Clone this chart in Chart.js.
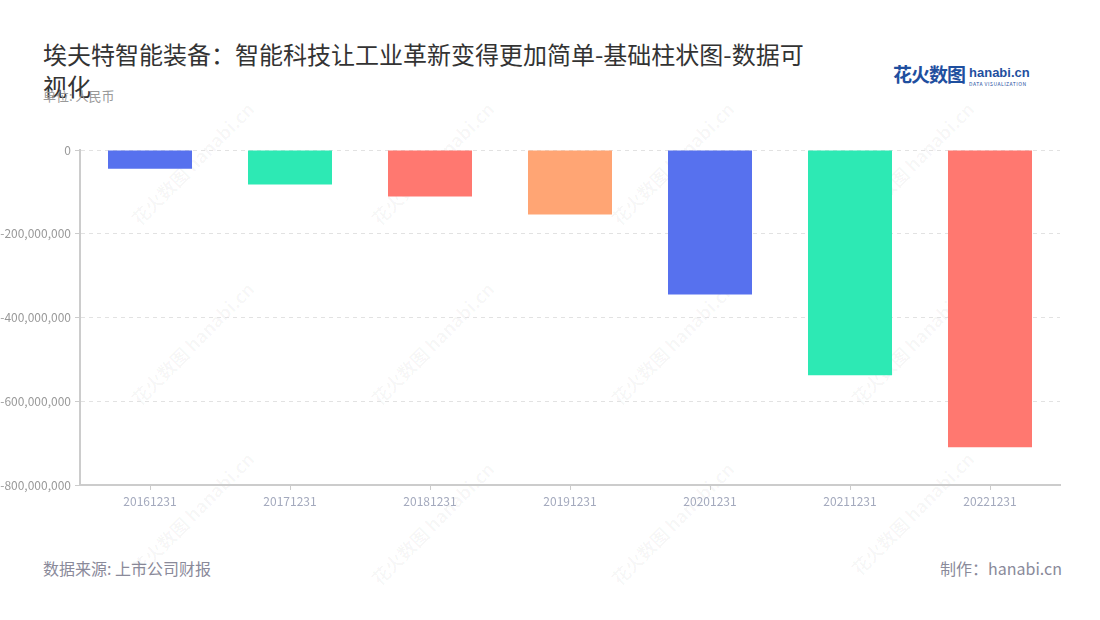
<!DOCTYPE html>
<html>
<head>
<meta charset="utf-8">
<script src="https://cdn.jsdelivr.net/npm/chart.js@4/dist/chart.umd.min.js"></script>
<style>
  body { margin: 0; width: 1100px; height: 620px; background: #fff; position: relative; overflow: hidden;
         font-family: "Noto Sans CJK SC", "Noto Sans", sans-serif; }
  #title { position: absolute; left: 43px; top: 38px; width: 770px; font-size: 24px; line-height: 32px; color: #333; }
  #unit { position: absolute; left: 43px; top: 86px; font-size: 13px; color: #999; }
  #logo { position: absolute; left: 893px; top: 60px; color: #1f4f9f; white-space: nowrap; }
  #logo .cn { font-size: 19px; font-weight: bold; letter-spacing: -1px; vertical-align: top; }
  #logo .en { display: inline-block; margin-left: 4px; vertical-align: top; line-height: 1; margin-top: 2px; }
  #logo .en b { font-size: 13px; font-family: "Liberation Sans", sans-serif; }
  #logo .en i { display: block; font-style: normal; font-size: 5px; letter-spacing: 0.5px; margin-top: 2px; }
  #source { position: absolute; left: 43px; top: 556px; font-size: 16px; color: #8a8a9a; }
  #maker { position: absolute; right: 38px; top: 556px; font-size: 16px; color: #8a8a9a; }
  .wm { position: absolute; font-size: 18px; font-weight: bold; color: rgba(0,0,0,0.035); transform: rotate(-45deg); white-space: nowrap; }
  canvas { position: absolute; left: 0; top: 0; }
</style>
</head>
<body>
<div id="title">埃夫特智能装备：智能科技让工业革新变得更加简单-基础柱状图-数据可视化</div>
<div id="unit">单位: 人民币</div>
<div id="logo"><span class="cn">花火数图</span><span class="en"><b>hanabi.cn</b><i>DATA VISUALIZATION</i></span></div>
<div id="source">数据来源: 上市公司财报</div>
<div id="maker">制作：hanabi.cn</div>
<div id="marks"></div>
<canvas id="canvas" width="1100" height="620"></canvas>
<script>
var categories = ['20161231', '20171231', '20181231', '20191231', '20201231', '20211231', '20221231'];
var values = [-44500000, -82600000, -111000000, -154000000, -345000000, -538000000, -710000000];
var barColors = ['#5771EE', '#2DE9B4', '#FF7870', '#FFA574', '#5771EE', '#2DE9B4', '#FF7870'];
var yTicks = [0, -200000000, -400000000, -600000000, -800000000];

// faint watermarks like the original
var marks = document.getElementById('marks');
[[110, 150], [350, 150], [590, 150], [830, 150],
 [110, 330], [350, 330], [590, 330], [830, 330],
 [110, 500], [350, 510], [590, 510], [830, 500]].forEach(function (p) {
  var d = document.createElement('div');
  d.className = 'wm';
  d.style.left = p[0] + 'px';
  d.style.top = p[1] + 'px';
  d.textContent = '花火数图 hanabi.cn';
  marks.appendChild(d);
});

var ctx = document.getElementById('canvas').getContext('2d');
new Chart(ctx, {
  type: 'bar',
  data: {
    labels: categories,
    datasets: [{
      data: values,
      backgroundColor: barColors,
      borderWidth: 0,
      barPercentage: 0.6,
      categoryPercentage: 1
    }]
  },
  options: {
    responsive: false,
    animation: false,
    layout: { padding: { left: 0, right: 40, top: 150, bottom: 105 } },
    plugins: { legend: { display: false }, tooltip: { enabled: false } },
    scales: {
      x: {
        afterFit: function (s) { s.height = 30; },
        grid: { offset: false, drawOnChartArea: false, drawTicks: true, tickLength: 5, tickColor: '#ccc' },
        border: { color: '#ccc', width: 2 },
        ticks: { color: '#a3a9bd', font: { size: 12, family: 'Noto Sans CJK SC' }, padding: 4 }
      },
      y: {
        min: -800000000,
        max: 0,
        afterFit: function (s) { s.width = 80; },
        afterBuildTicks: function (s) { s.ticks = yTicks.map(function (v) { return { value: v }; }); },
        grid: { color: '#e2e2e2', tickLength: 5, tickColor: '#ccc', tickBorderDash: [] },
        border: { color: '#ccc', width: 2, dash: [4, 4] },
        ticks: {
          color: '#999',
          font: { size: 12, family: 'Noto Sans CJK SC' },
          padding: 4,
          callback: function (v) { return Number(v).toLocaleString('en-US'); }
        }
      }
    }
  }
});
</script>
</body>
</html>
